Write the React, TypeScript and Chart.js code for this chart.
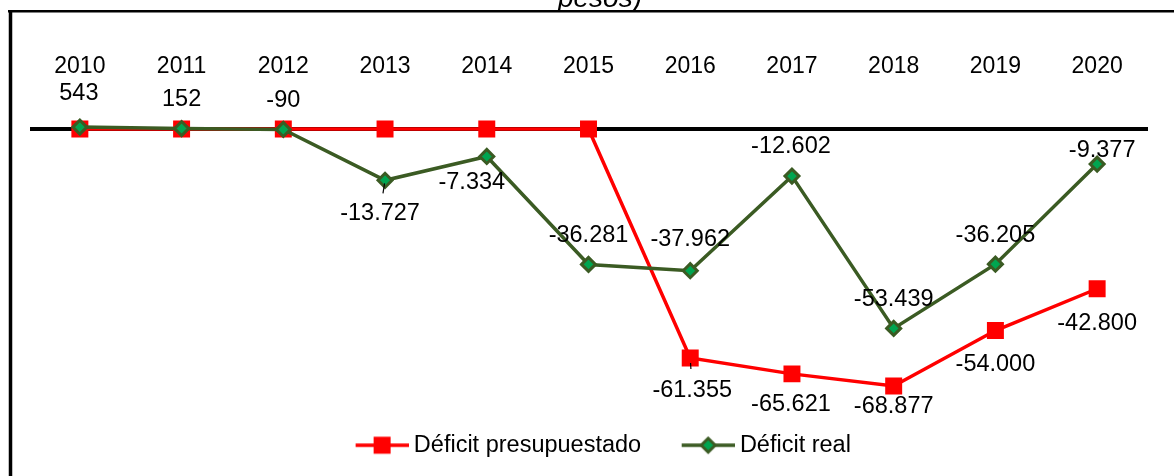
import React, { useEffect, useRef } from 'react';
import { Chart, registerables } from 'chart.js';

Chart.register(...registerables);

// ---------- data ----------
const years = ['2010', '2011', '2012', '2013', '2014', '2015', '2016', '2017', '2018', '2019', '2020'];
const presupuestado = [0, 0, 0, 0, 0, 0, -61355, -65621, -68877, -54000, -42800];
const real = [543, 152, -90, -13727, -7334, -36281, -37962, -12602, -53439, -36205, -9377];
const seriesNames = ['Déficit presupuestado', 'Déficit real'];
const titleText = 'pesos)';
const yMin = -80000;
const yMax = 10000;

// ---------- label placement (dx, dy in px from the point; null = no label) ----------
const presLabelOffsets: (number[] | null)[] = [null, null, null, null, null, null, [2, 31], [-1, 29], [0, 19], [0, 32], [0, 32.5]];
const realLabelOffsets: (number[] | null)[] = [[-1, -35], [0, -31], [0, -31], [-5, 31.5], [-15, 24], [0, -31], [0, -33], [-1, -32], [0, -31], [0, -31], [5, -15.5]];
// leader line spans (vertical px range along the label direction; null = none)
const presLeaders: (number[] | null)[] = [null, null, null, null, null, null, [5, 11], null, null, null, null];
const realLeaders: (number[] | null)[] = [null, null, null, [3, 13], null, null, null, null, null, null, null];

// ---------- styles ----------
const FONT = '"Liberation Sans", Arial, sans-serif';
const RED = '#FF0000';
const GREEN_LINE = '#3B5B23';
const GREEN_FILL = '#00A550';
const W = 1174;
const H = 476;
const LEG_BOX = 81;

function fmt(v: number): string {
  const s = Math.abs(v).toString().replace(/\B(?=(\d{3})+(?!\d))/g, '.');
  return (v < 0 ? '-' : '') + s;
}

function makeIcon(kind: 'square' | 'diamond'): HTMLCanvasElement {
  const c = document.createElement('canvas');
  const iw = LEG_BOX + 13;
  const ih = 22;
  c.width = iw;
  c.height = ih;
  const ctx = c.getContext('2d')!;
  const x0 = iw - 53;
  const cx = x0 + 26.5;
  const cy = ih / 2;
  ctx.lineWidth = 3.5;
  if (kind === 'square') {
    ctx.strokeStyle = RED;
    ctx.beginPath();
    ctx.moveTo(x0, cy);
    ctx.lineTo(iw, cy);
    ctx.stroke();
    ctx.fillStyle = RED;
    ctx.fillRect(cx - 8.5, cy - 8.5, 17, 17);
  } else {
    ctx.strokeStyle = GREEN_LINE;
    ctx.beginPath();
    ctx.moveTo(x0, cy);
    ctx.lineTo(iw, cy);
    ctx.stroke();
    ctx.beginPath();
    ctx.moveTo(cx - 7, cy);
    ctx.lineTo(cx, cy - 7);
    ctx.lineTo(cx + 7, cy);
    ctx.lineTo(cx, cy + 7);
    ctx.closePath();
    ctx.fillStyle = GREEN_FILL;
    ctx.fill();
    ctx.lineWidth = 3;
    ctx.strokeStyle = GREEN_LINE;
    ctx.stroke();
  }
  return c;
}

const framePlugin = {
  id: 'frame',
  beforeDraw(chart: any) {
    const ctx = chart.ctx;
    ctx.save();
    ctx.beginPath();
    ctx.rect(0, 0, W, 10);
    ctx.clip();
    ctx.fillStyle = '#000';
    ctx.font = `italic 28px ${FONT}`;
    ctx.textAlign = 'center';
    ctx.textBaseline = 'alphabetic';
    ctx.fillText(titleText, 600, 6.5);
    ctx.restore();

    ctx.save();
    ctx.strokeStyle = '#000';
    ctx.lineWidth = 2.5;
    ctx.beginPath();
    ctx.moveTo(8, 11.3);
    ctx.lineTo(W, 11.3);
    ctx.stroke();
    ctx.lineWidth = 3.5;
    ctx.beginPath();
    ctx.moveTo(10.5, 10);
    ctx.lineTo(10.5, H);
    ctx.stroke();
    ctx.restore();
  },
};

const zeroLinePlugin = {
  id: 'zeroLine',
  beforeDatasetsDraw(chart: any) {
    const { ctx, chartArea, scales } = chart;
    const y = scales.y.getPixelForValue(0);
    ctx.save();
    ctx.strokeStyle = '#000';
    ctx.lineWidth = 4;
    ctx.beginPath();
    ctx.moveTo(chartArea.left + 1, y);
    ctx.lineTo(chartArea.right, y);
    ctx.stroke();
    ctx.restore();
  },
};

const dataLabelPlugin = {
  id: 'dataLabels',
  afterDatasetsDraw(chart: any) {
    const ctx = chart.ctx;
    const size = 23.5;
    ctx.save();
    chart.data.datasets.forEach((ds: any, d: number) => {
      const meta = chart.getDatasetMeta(d);
      const offs = d === 0 ? presLabelOffsets : realLabelOffsets;
      const leads = d === 0 ? presLeaders : realLeaders;
      meta.data.forEach((pt: any, i: number) => {
        const off = offs[i];
        if (!off) return;
        const lead = leads[i];
        if (lead) {
          const fx = off[0] / off[1];
          ctx.strokeStyle = '#000';
          ctx.lineWidth = 1.2;
          ctx.beginPath();
          ctx.moveTo(pt.x + fx * lead[0], pt.y + lead[0]);
          ctx.lineTo(pt.x + fx * lead[1], pt.y + lead[1]);
          ctx.stroke();
        }
        const v = ds.data[i] as number;
        ctx.fillStyle = '#000';
        ctx.font = `${size}px ${FONT}`;
        ctx.textAlign = 'center';
        ctx.textBaseline = 'alphabetic';
        ctx.fillText(fmt(v), pt.x + off[0], pt.y + off[1] + size * 0.716 / 2);
      });
    });
    ctx.restore();
  },
};

export default function App() {
  const ref = useRef<HTMLCanvasElement | null>(null);

  useEffect(() => {
    document.body.style.margin = '0';
    const canvas = ref.current;
    if (!canvas) return;
    const icons = [makeIcon('square'), makeIcon('diamond')];
    const chart = new Chart(canvas, {
      type: 'line',
      data: {
        labels: years,
        datasets: [
          {
            label: seriesNames[0],
            data: presupuestado,
            borderColor: RED,
            backgroundColor: RED,
            borderWidth: 3.5,
            pointStyle: 'rect',
            pointRadius: 12,
            pointBorderWidth: 0,
            pointBackgroundColor: RED,
            pointBorderColor: RED,
            order: 1,
            tension: 0,
          },
          {
            label: seriesNames[1],
            data: real,
            borderColor: GREEN_LINE,
            backgroundColor: GREEN_FILL,
            borderWidth: 3.5,
            pointStyle: 'rectRot',
            pointRadius: 7,
            pointBorderWidth: 3,
            pointBackgroundColor: GREEN_FILL,
            pointBorderColor: GREEN_LINE,
            order: 0,
            tension: 0,
          },
        ],
      },
      options: {
        responsive: false,
        animation: false,
        devicePixelRatio: 1,
        layout: { padding: { left: 24, right: 26, top: 0, bottom: 9 } },
        scales: {
          x: {
            position: 'top',
            offset: true,
            grid: { display: false },
            border: { display: false },
            ticks: {
              color: '#000',
              font: { family: FONT, size: 23 },
              padding: 3,
              maxRotation: 0,
              autoSkip: false,
            },
            afterFit: (s: any) => {
              s.height = 91.8;
            },
          },
          y: {
            display: true,
            min: yMin,
            max: yMax,
            grid: { display: false },
            border: { display: false },
            ticks: { display: false },
            afterFit: (s: any) => {
              s.width = 5;
            },
          },
        },
        plugins: {
          title: { display: false },
          tooltip: { enabled: false },
          legend: {
            position: 'bottom',
            labels: {
              usePointStyle: true,
              pointStyleWidth: LEG_BOX,
              padding: 6,
              color: '#000',
              font: { family: FONT, size: 23.5 },
              generateLabels: (c: any) =>
                c.data.datasets.map((ds: any, i: number) => ({
                  text: ds.label,
                  pointStyle: icons[i],
                  fillStyle: 'rgba(0,0,0,0)',
                  strokeStyle: 'rgba(0,0,0,0)',
                  lineWidth: 0,
                  hidden: false,
                  datasetIndex: i,
                  fontColor: '#000',
                })),
            },
          },
        },
      } as any,
      plugins: [framePlugin, zeroLinePlugin, dataLabelPlugin],
    });
    return () => chart.destroy();
  }, []);

  return (
    <div style={{ width: W, height: H, position: 'relative' }}>
      <canvas ref={ref} width={W} height={H} />
    </div>
  );
}
